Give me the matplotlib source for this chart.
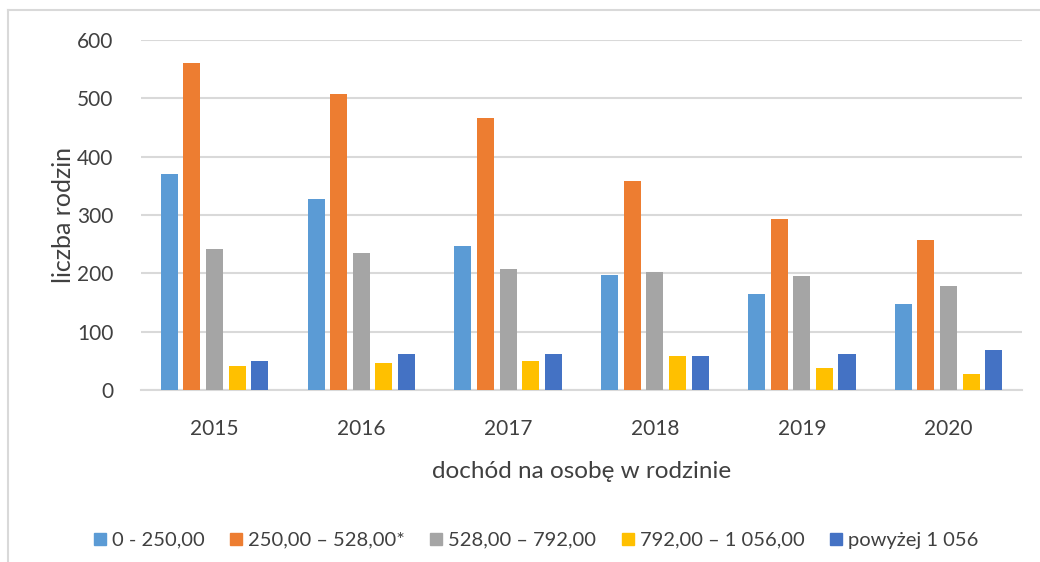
import numpy as np
import matplotlib.pyplot as plt
from matplotlib.lines import Line2D

plt.rcParams['font.family'] = ['Lato', 'DejaVu Sans']

lata = ['2015', '2016', '2017', '2018', '2019', '2020']
przedzialy = ['0 - 250,00', '250,00 – 528,00*', '528,00 – 792,00',
              '792,00 – 1 056,00', 'powyżej 1 056']

p1 = [371, 327, 247, 198, 164, 147]
p2 = [561, 507, 466, 359, 294, 258]
p3 = [241, 235, 207, 202, 195, 179]
p4 = [41, 47, 50, 59, 38, 27]
p5 = [50, 62, 62, 58, 61, 68]

kolory = ['#5b9bd5', '#ed7d31', '#a5a5a5', '#ffc000', '#4472c4']
tekst = '#404040'
siatka = '#d9d9d9'

fig = plt.figure(figsize=(10.4, 5.62), dpi=100)
ax = fig.add_axes([0.1356, 0.306, 0.8471, 0.6228])

x = np.arange(len(lata))
szer = 0.116
krok = 0.154
for i, (dane, kol, nazwa) in enumerate(zip([p1, p2, p3, p4, p5], kolory, przedzialy)):
    ax.bar(x + (i - 2) * krok, dane, width=szer, color=kol, label=nazwa, zorder=3)

ax.set_xlim(-0.5, len(lata) - 0.5)
ax.set_ylim(0, 600)
ax.set_yticks(range(0, 601, 100))
ax.set_xticks(x)
ax.set_xticklabels(lata)
ax.grid(axis='y', color=siatka, linewidth=1.5, zorder=0)
for s in ['top', 'right', 'left']:
    ax.spines[s].set_visible(False)
ax.spines['bottom'].set_color(siatka)
ax.spines['bottom'].set_linewidth(1.5)
ax.tick_params(length=0, labelsize=15, colors=tekst)
ax.tick_params(axis='x', pad=21)
ax.tick_params(axis='y', pad=20)

ax.set_ylabel('liczba rodzin', fontsize=18, color=tekst, labelpad=1)
ax.set_xlabel('dochód na osobę w rodzinie', fontsize=17.5, color=tekst, labelpad=16)

uchwyty = [Line2D([], [], marker='s', linestyle='none', markersize=9,
                  markerfacecolor=k, markeredgecolor=k) for k in kolory]
fig.legend(uchwyty, przedzialy, loc='center', bbox_to_anchor=(0.515, 0.039),
           ncol=5, frameon=False, fontsize=14.5, labelcolor=tekst,
           handlelength=0.7, handletextpad=0.25, columnspacing=1.2)

# ramka wykresu (przycięta)
fig.add_artist(Line2D([8 / 1040, 8 / 1040], [0, 1 - 10 / 562], color='#d9d9d9', linewidth=1.5))
fig.add_artist(Line2D([8 / 1040, 1], [1 - 10 / 562, 1 - 10 / 562], color='#d9d9d9', linewidth=1.5))

fig.savefig('out.png', dpi=100)
